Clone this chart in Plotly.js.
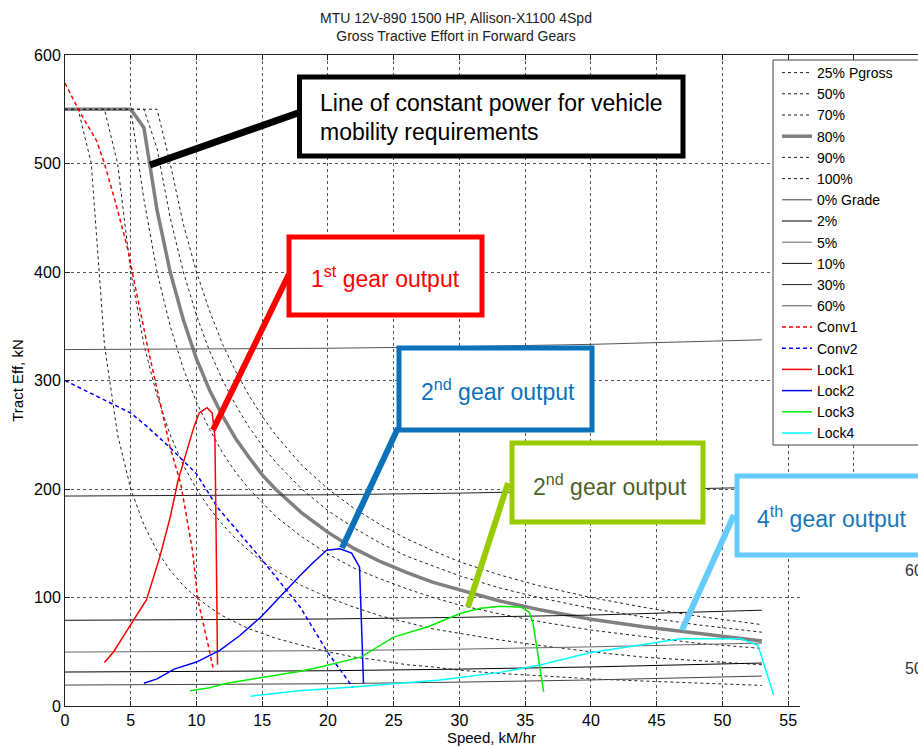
<!DOCTYPE html>
<html><head><meta charset="utf-8">
<script src="https://cdn.plot.ly/plotly-3.0.1.min.js"></script>
<style>body{margin:0;background:#fff}#chart{width:918px;height:747px}</style>
</head><body><div id="chart"></div>
<script>
// ---- Power curves (kN) sampled at these speeds (km/h) ----
const powerSpeed = [0,1,2,3,4,5,6,7,8,9,10,11,12,13,14,15,16,18,20,22,24,26,28,30,33,36,40,44,48,53];
const p25  = [550,550,500,333,250,200,167,143,125,111,100,91,83,77,71,67,62.5,56,50,45,42,38,36,33,30,28,25,23,21,19];
const p50  = [550,550,550,550,500,400,333,286,250,222,200,182,167,154,143,133,125,111,100,91,83,77,71,67,61,56,50,45,42,38];
const p70  = [550,550,550,550,550,550,467,400,350,311,280,255,233,215,200,187,175,156,140,127,117,108,100,93,85,78,70,64,58,53];
const p80  = [550,550,550,550,550,550,533,457,400,356,320,291,267,246,229,213,200,178,160,145,133,123,114,107,97,89,80,73,67,60];
const p90  = [550,550,550,550,550,550,550,514,450,400,360,327,300,277,257,240,225,200,180,164,150,138,129,120,109,100,90,82,75,68];
const p100 = [550,550,550,550,550,550,550,550,500,444,400,364,333,308,286,267,250,222,200,182,167,154,143,133,121,111,100,91,83,75];

// ---- Grade resistance lines ----
const gradeSpeed = [0,10,20,30,40,53];
const g0  = [19.3,19.6,20.5,22.0,24.0,27.6];
const g2  = [31.3,31.6,32.5,34.0,36.0,39.6];
const g5  = [49.7,50.0,51.0,52.4,54.5,58.0];
const g10 = [79.0,79.3,80.2,81.7,83.8,88.3];
const g30 = [193.5,193.8,194.7,196.2,198.3,201.5];
const g60 = [328.5,328.8,329.7,331.2,333.3,337.5];

// ---- Gear outputs ----
const conv1X = [0,1.1,2.4,3.0,3.8,4.8,5.1,6.3,8.0,8.8,9.7,10.1,10.8,11.3];
const conv1Y = [574,548,521,500,466,420,401,330,238,205,143,98,61,33];
const conv2X = [0,3.4,5.0,6.2,8.0,10.0,11.6,14.9,17.9,20.0,21.9];
const conv2Y = [300,280,270,258,238,214,183,136,91,49,17];
const lock1X = [3.0,3.7,5.2,6.2,7.2,8.0,8.6,9.3,9.8,10.2,10.8,11.2,11.4,11.5,11.6];
const lock1Y = [40,50,79,98,137,174,208,236,257,270,275,270,248,150,38];
const lock2X = [6.0,7.0,8.3,10.0,11.8,13.3,14.9,16.9,17.9,18.9,19.9,20.9,21.8,22.4,22.7];
const lock2Y = [21,25,34,40.5,51.5,65,82,108,120.5,132.5,143.5,145,141,128,21];
const lock3X = [9.5,10.9,12.3,17.9,19.4,22.5,25.0,27.6,30.1,31.6,33.1,34.7,35.3,35.6,36.4];
const lock3Y = [14,16.5,21,32,36,45,63.5,73,85.5,90,92,91,86.5,76,13];
const lock4X = [14.1,17.8,21.9,28.5,33.1,36.2,39.9,44.5,46.8,51.4,52.7,53.9];
const lock4Y = [9,14,17.5,24,31,38,49,58,62,62,56,10];

const legendNames = ['25% Pgross','50%','70%','80%','90%','100%','0% Grade','2%','5%','10%','30%','60%','Conv1','Conv2','Lock1','Lock2','Lock3','Lock4'];
const xTicks = [0,5,10,15,20,25,30,35,40,45,50,55,60,65];
const yTicks = [0,100,200,300,400,500,600];

const dotLine = {color:'#222', width:1, dash:'dot'};
function tr(x, y, name, line){ return {x:x, y:y, name:name, type:'scatter', mode:'lines', line:line, hoverinfo:'skip'}; }

const traces = [
  tr(powerSpeed, p25,  legendNames[0], dotLine),
  tr(powerSpeed, p50,  legendNames[1], dotLine),
  tr(powerSpeed, p70,  legendNames[2], dotLine),
  tr(powerSpeed, p80,  legendNames[3], {color:'#808080', width:3.5}),
  tr(powerSpeed, p90,  legendNames[4], dotLine),
  tr(powerSpeed, p100, legendNames[5], dotLine),
  tr(gradeSpeed, g0,  legendNames[6], {color:'#444', width:1}),
  tr(gradeSpeed, g2,  legendNames[7], {color:'#000', width:1}),
  tr(gradeSpeed, g5,  legendNames[8], {color:'#666', width:1}),
  tr(gradeSpeed, g10, legendNames[9], {color:'#111', width:1}),
  tr(gradeSpeed, g30, legendNames[10], {color:'#222', width:1}),
  tr(gradeSpeed, g60, legendNames[11], {color:'#555', width:1}),
  tr(conv1X, conv1Y, legendNames[12], {color:'#ff0000', width:1.5, dash:'4px,3px'}),
  tr(conv2X, conv2Y, legendNames[13], {color:'#0000ff', width:1.5, dash:'4px,3px'}),
  tr(lock1X, lock1Y, legendNames[14], {color:'#ff0000', width:1.5}),
  tr(lock2X, lock2Y, legendNames[15], {color:'#0000ff', width:1.5}),
  tr(lock3X, lock3Y, legendNames[16], {color:'#00ee00', width:1.5}),
  tr(lock4X, lock4Y, legendNames[17], {color:'#00ffff', width:1.5})
];

// pixel -> paper helpers (plot area: x 65..918, y 55..706)
const L=65, R=918, T=55, B=706;
const px = v => (v-L)/(R-L);
const py = v => (B-v)/(B-T);

function rect(x0,y0,x1,y1,color,w,fill){
  return {type:'rect', xref:'paper', yref:'paper', x0:px(x0), x1:px(x1), y0:py(y1), y1:py(y0),
          line:{color:color, width:w}, fillcolor:fill||'#ffffff', layer:'above'};
}
function seg(x0,y0,x1,y1,color,w){
  return {type:'line', xref:'paper', yref:'paper', x0:px(x0), x1:px(x1), y0:py(y0), y1:py(y1),
          line:{color:color, width:w}, layer:'above'};
}
function txt(x,y,text,color,size,xanchor){
  return {xref:'paper', yref:'paper', x:px(x), y:py(y), text:text, showarrow:false,
          xanchor:xanchor||'center', yanchor:'middle', font:{family:'Liberation Sans, Arial, sans-serif', size:size, color:color}};
}

const shapes = [
  rect(800,557,940,760,'rgba(0,0,0,0)',0,'#ffffff'),         // blank patch bottom-right
  rect(773,60,940,445,'#444',1,'#ffffff'),                   // legend box
  seg(298,113,150,165,'#000',7),
  rect(299.5,77,683,156,'#000',5),
  seg(289,274,213,430,'#ff0000',6),
  rect(289,237,482,315,'#ff0000',5),
  seg(398,428,342,548,'#0B72B9',6),
  rect(399,348,592,430,'#0B72B9',5),
  seg(508,483,468,607,'#99CC00',6),
  rect(512,443,703,522,'#99CC00',5),
  seg(734,515,682,630,'#66CCFF',6),
  rect(737,476,940,555,'#66CCFF',5)
];

const annotations = [
  txt(318,103,'Line of constant power for vehicle','#000',23,'left'),
  txt(318,132,'mobility requirements','#000',23,'left'),
  txt(385,277,'1<sup>st</sup> gear output','#ff0000',23),
  txt(498,390,'2<sup>nd</sup> gear output','#0B72B9',23),
  txt(610,485,'2<sup>nd</sup> gear output','#4F6228',23),
  txt(755,517,'4<sup>th</sup> gear output','#1B75BB',23,'left'),
  txt(903,570,'60','#333',16,'left'),
  txt(903,668,'50','#333',16,'left')
];

const layout = {
  width:918, height:747,
  margin:{l:65, r:0, t:55, b:41},
  paper_bgcolor:'#fff', plot_bgcolor:'#fff',
  font:{family:'Liberation Sans, Arial, sans-serif', color:'#000'},
  title:{text:'MTU 12V-890 1500 HP, Allison-X1100 4Spd<br>Gross Tractive Effort in Forward Gears',
         font:{size:14, color:'#222'}, x:456/918, xanchor:'center', xref:'container', y:1-22.5/747, yanchor:'middle', yref:'container'},
  xaxis:{range:[0,64.87], tickvals:xTicks, ticks:'inside', ticklen:5, tickcolor:'#222', showline:true, linecolor:'#222', linewidth:1,
         mirror:'ticks', showgrid:true, gridcolor:'#555', griddash:'dot', gridwidth:1, zeroline:false,
         tickfont:{size:16}, title:{text:'Speed, kM/hr', font:{size:15}, standoff:0}, automargin:false, fixedrange:true},
  yaxis:{range:[0,600], tickvals:yTicks, ticks:'inside', ticklen:5, tickcolor:'#222', showline:true, linecolor:'#222', linewidth:1,
         showgrid:true, gridcolor:'#555', griddash:'dot', gridwidth:1, zeroline:false,
         tickfont:{size:16}, title:{text:'Tract Eff, kN', font:{size:15}, standoff:6}, automargin:false, fixedrange:true},
  showlegend:true,
  legend:{x:px(777), y:py(57), xanchor:'left', yanchor:'top', bgcolor:'rgba(0,0,0,0)', borderwidth:0,
          font:{size:14, color:'#000'}, tracegroupgap:0},
  shapes:shapes,
  annotations:annotations
};

Plotly.newPlot('chart', traces, layout, {displayModeBar:false, staticPlot:true});
</script>
</body></html>
